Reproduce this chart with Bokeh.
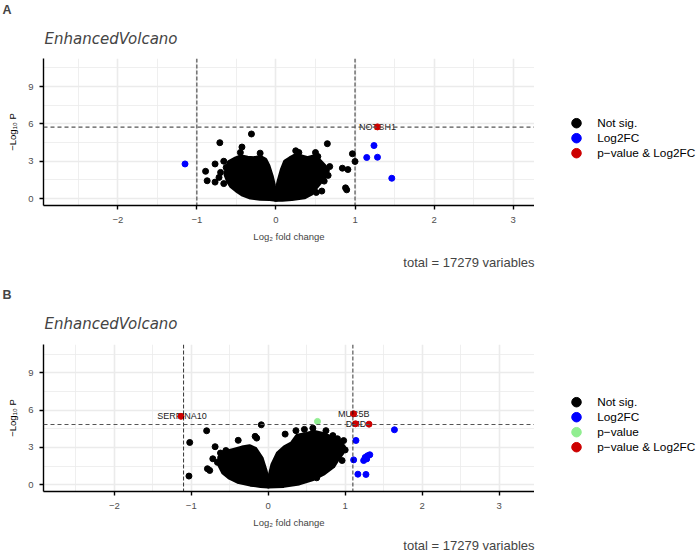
from bokeh.plotting import figure
from bokeh.models import FixedTicker, Span, Label, Range1d
from bokeh.layouts import column, row
from bokeh.embed import file_html
from bokeh.resources import INLINE
from bokeh.core.properties import value

FONT = "Liberation Sans"

# ---------------- data: panel A ----------------
a_fc_cut = 1.0
a_p_cut = 5.74
a_ns_x = [-0.31, -0.71, 0.65, -0.43, 0.967, 1.0, 0.84, 0.91, 0.88, 0.895, -0.89, -0.87,
          -0.77, -0.77, 0.51, 0.68, -0.66, -0.2, 0.25, 0.29, 0.5, 0.53, -0.45, -0.63,
          0.66, -0.7, -0.72, 0.58, 0.61, -0.66, 0.41]
a_ns_y = [5.19, 4.49, 4.41, 4.14, 3.6, 2.98, 2.44, 2.33, 0.86, 0.70, 2.19, 1.43,
          2.78, 1.32, 0.49, 2.57, 3.0, 3.65, 3.84, 3.7, 3.7, 3.38, 3.7, 2.5,
          1.86, 2.1, 1.7, 0.6, 1.4, 1.2, 0.46]
a_cloud_xs = [[0.0, -0.08, -0.2, -0.32, -0.42, -0.5, -0.56, -0.6, -0.63, -0.62, -0.59,
               -0.52, -0.44, -0.36, -0.28, -0.2, -0.14, -0.1, -0.06, -0.03, 0.0],
              [0.0, 0.01, 0.04, 0.08, 0.12, 0.18, 0.25, 0.32, 0.4, 0.48, 0.55, 0.61,
               0.65, 0.62, 0.56, 0.5, 0.45, 0.36, 0.2, 0.08]]
a_cloud_ys = [[-0.05, 0.0, 0.02, 0.12, 0.35, 0.7, 1.0, 1.4, 1.9, 2.4, 2.9,
               3.15, 3.35, 3.25, 3.2, 3.3, 3.1, 2.6, 1.8, 1.0, 0.3],
              [-0.05, 0.5, 1.4, 2.3, 2.95, 3.2, 3.45, 3.35, 3.2, 3.35, 3.0, 2.6,
               2.25, 1.8, 1.35, 0.9, 0.45, 0.15, 0.0, -0.05]]
a_fc_x = [-1.15, 1.24, 1.148, 1.284, 1.465]
a_fc_y = [2.78, 4.26, 3.30, 3.32, 1.63]
a_both_x = [1.284]
a_both_y = [5.76]
a_lab_text = ["NOTCH1"]
a_lab_x = [1.284]
a_lab_y = [5.74]
a_legend = ["Not sig.", "Log2FC", "p\u2212value & Log2FC"]
a_legend_col = ["#000000", "#0000FF", "#CD0000"]

# ---------------- data: panel B ----------------
b_fc_cut = 1.1
b_p_cut = 4.84
b_ns_x = [-0.09, -0.80, -1.02, -1.03, -0.79, -0.76, -0.69, -0.72, -0.39, -0.17, -0.15,
          0.22, 0.63, 0.36, 0.47, 0.58, 0.75, 0.98, 1.0, 0.96, -0.62, -0.55, 0.84,
          0.9, -0.66]
b_ns_y = [4.82, 4.34, 3.40, 0.70, 1.29, 1.15, 3.06, 2.09, 3.57, 3.89, 3.75,
          4.07, 0.56, 4.35, 4.45, 4.55, 4.35, 3.55, 2.8, 1.95, 2.55, 2.75, 3.95,
          3.7, 1.8]
b_cloud_xs = [[0.0, -0.1, -0.23, -0.38, -0.5, -0.58, -0.63, -0.63, -0.58, -0.46,
               -0.34, -0.24, -0.17, -0.09, -0.04, -0.01],
              [0.0, 0.02, 0.06, 0.13, 0.22, 0.31, 0.38, 0.5, 0.6, 0.71, 0.82, 0.93,
               0.98, 0.96, 0.9, 0.84, 0.72, 0.58, 0.4, 0.2]]
b_cloud_ys = [[-0.1, -0.05, 0.05, 0.25, 0.6, 1.0, 1.6, 2.2, 2.55, 2.75,
               2.95, 3.05, 2.85, 2.1, 1.1, 0.3],
              [-0.1, 0.6, 1.6, 2.5, 3.0, 3.3, 3.9, 4.05, 4.2, 4.05, 3.75, 3.45,
               3.0, 2.6, 2.1, 1.5, 0.95, 0.5, 0.15, -0.05]]
b_fc_x = [1.64, 1.14, 1.11, 1.165, 1.27, 1.24, 1.26, 1.29, 1.32, 1.28]
b_fc_y = [4.42, 3.56, 2.0, 0.85, 0.83, 1.95, 2.2, 2.33, 2.41, 2.08]
b_p_x = [0.64]
b_p_y = [5.09]
b_both_x = [-1.134, 1.11, 1.135, 1.31]
b_both_y = [5.50, 5.70, 4.90, 4.87]
b_lab_text = ["SERPINA10", "MUC5B", "DMD"]
b_lab_x = [-1.12, 1.11, 1.14]
b_lab_y = [5.50, 5.70, 4.92]
b_legend = ["Not sig.", "Log2FC", "p\u2212value", "p\u2212value & Log2FC"]
b_legend_col = ["#000000", "#0000FF", "#90EE90", "#CD0000"]

x_ticks = [-2, -1, 0, 1, 2, 3]
x_minor = [-2.5, -1.5, -0.5, 0.5, 1.5, 2.5]
y_ticks = [0, 3, 6, 9]
y_minor = [1.5, 4.5, 7.5, 10.5]
caption_text = "total = 17279 variables"
title_text = "EnhancedVolcano"
x_title = "Log\u2082 fold change"
y_title = "\u2212Log\u2081\u2080 P"

COL_NS = "#000000"
COL_FC = "#0000FF"
COL_P = "#90EE90"
COL_BOTH = "#CD0000"

W_TOTAL = 700
W_PLOT = 534   # page x 0..534 (frame 43..534)
W_LEG = 166    # page x 534..700
FRAME_H = 147
H_PLOT = 172   # frame 147 + bottom tick area 25


def blank(w, h, yspan=None):
    f = figure(width=w, height=h, x_range=Range1d(0, w),
               y_range=Range1d(yspan if yspan else h, 0),
               output_backend="svg", toolbar_location=None, min_border=0,
               x_axis_type=None, y_axis_type=None)
    f.outline_line_color = None
    f.background_fill_color = "white"
    f.border_fill_color = "white"
    return f


def header(letter, h, letter_top, title_mid):
    f = blank(W_TOTAL, h)
    f.add_layout(Label(x=2, y=letter_top, text=letter, text_font=FONT,
                       text_font_size="12.5px", text_font_style="bold",
                       text_baseline="top"))
    f.add_layout(Label(x=44, y=title_mid, text=title_text, text_font="DejaVu Sans",
                       text_font_size="15px", text_font_style="italic",
                       text_baseline="middle"))
    return f


def footer(h, xlab_mid, cap_mid):
    f = blank(W_TOTAL, h)
    f.add_layout(Label(x=288.5, y=xlab_mid, text=x_title, text_font=FONT,
                       text_font_size="9.5px", text_align="center",
                       text_baseline="middle"))
    f.add_layout(Label(x=W_PLOT, y=cap_mid, text=caption_text, text_font=FONT,
                       text_font_size="13px", text_align="right",
                       text_baseline="middle"))
    return f


def legend_fig(labels, colors, first_mid):
    # in a row Bokeh aligns this figure's frame with the panel frame (147 px tall)
    f = blank(W_LEG, H_PLOT, yspan=FRAME_H)
    ys = [first_mid + 15 * i for i in range(len(labels))]
    f.scatter([42] * len(labels), ys, size=9.5, color=colors)
    f.text([62.7] * len(labels), ys, text=labels, text_font=value(FONT),
           text_font_size="11.8px", text_baseline="middle", text_align="left",
           text_color="black")
    return f


def panel(xr, yr, fc_cut, p_cut, cloud_xs, cloud_ys, ns, fc, pv, both, labs):
    p = figure(width=W_PLOT, height=H_PLOT, x_range=Range1d(*xr), y_range=Range1d(*yr),
               output_backend="svg", toolbar_location=None,
               min_border_left=43, min_border_right=0,
               min_border_top=0, min_border_bottom=H_PLOT - FRAME_H)
    p.outline_line_color = None
    p.background_fill_color = "white"
    p.border_fill_color = "white"

    xt = FixedTicker(ticks=x_ticks, minor_ticks=x_minor)
    yt = FixedTicker(ticks=y_ticks, minor_ticks=y_minor)
    p.xaxis.ticker = xt
    p.yaxis.ticker = yt
    p.xgrid.ticker = xt
    p.ygrid.ticker = yt
    for g in (p.xgrid, p.ygrid):
        g.grid_line_color = "#EBEBEB"
        g.grid_line_width = 1.6
        g.minor_grid_line_color = "#EBEBEB"
        g.minor_grid_line_width = 0.8

    for ax in (p.xaxis, p.yaxis):
        ax.axis_line_color = "black"
        ax.axis_line_width = 1.4
        ax.major_tick_line_color = "black"
        ax.major_tick_line_width = 1.4
        ax.major_tick_in = 0
        ax.major_tick_out = 4
        ax.minor_tick_line_color = None
        ax.major_label_text_font = FONT
        ax.major_label_text_font_size = "9.5px"
        ax.major_label_text_color = "#4D4D4D"
        ax.axis_label_text_font = FONT
        ax.axis_label_text_font_size = "9.5px"
        ax.axis_label_text_font_style = "normal"
        ax.axis_label_text_color = "black"
    p.xaxis.major_label_standoff = 7
    p.yaxis.major_label_standoff = 6
    p.xaxis.major_label_overrides = {-2: "\u22122", -1: "\u22121"}
    p.yaxis.axis_label = y_title
    p.yaxis.axis_label_standoff = 7

    # dense cloud of non-significant genes
    p.patches(cloud_xs, cloud_ys, fill_color=COL_NS, line_color=COL_NS,
              line_width=5, line_join="round")
    p.scatter(ns[0], ns[1], size=6, color=COL_NS)

    p.text(labs[1], labs[2], text=labs[0], text_font=value(FONT),
           text_font_size="9px", text_align="center", text_baseline="middle",
           text_color="#222222")

    p.scatter(fc[0], fc[1], size=6, color=COL_FC)
    if pv is not None:
        p.scatter(pv[0], pv[1], size=6, color=COL_P)
    p.scatter(both[0], both[1], size=6, color=COL_BOTH)

    p.add_layout(Span(location=-fc_cut, dimension="height", line_color="black",
                      line_width=0.8, line_dash="4 2"))
    p.add_layout(Span(location=fc_cut, dimension="height", line_color="black",
                      line_width=0.8, line_dash="4 2"))
    p.add_layout(Span(location=p_cut, dimension="width", line_color="#555555",
                      line_width=1.1, line_dash="4 3"))
    return p


pA = panel((-2.94, 3.27), (-0.56, 11.26), a_fc_cut, a_p_cut,
           a_cloud_xs, a_cloud_ys, (a_ns_x, a_ns_y), (a_fc_x, a_fc_y), None,
           (a_both_x, a_both_y), (a_lab_text, a_lab_x, a_lab_y))
pB = panel((-2.92, 3.46), (-0.54, 11.27), b_fc_cut, b_p_cut,
           b_cloud_xs, b_cloud_ys, (b_ns_x, b_ns_y), (b_fc_x, b_fc_y),
           (b_p_x, b_p_y), (b_both_x, b_both_y), (b_lab_text, b_lab_x, b_lab_y))

hA = header("A", 58, 2, 38)          # page y 0..58
rowA = row(pA, legend_fig(a_legend, a_legend_col, 64.7), spacing=0)   # 58..230
fA = footer(51, 6.2, 32)             # 230..281
hB = header("B", 63, 6, 42)          # 281..344
rowB = row(pB, legend_fig(b_legend, b_legend_col, 57.7), spacing=0)   # 344..516
fB = footer(38, 6, 29)               # 516..554

layout = column(hA, rowA, fA, hB, rowB, fB, spacing=0)
open("out.html", "w").write(file_html(layout, INLINE))
